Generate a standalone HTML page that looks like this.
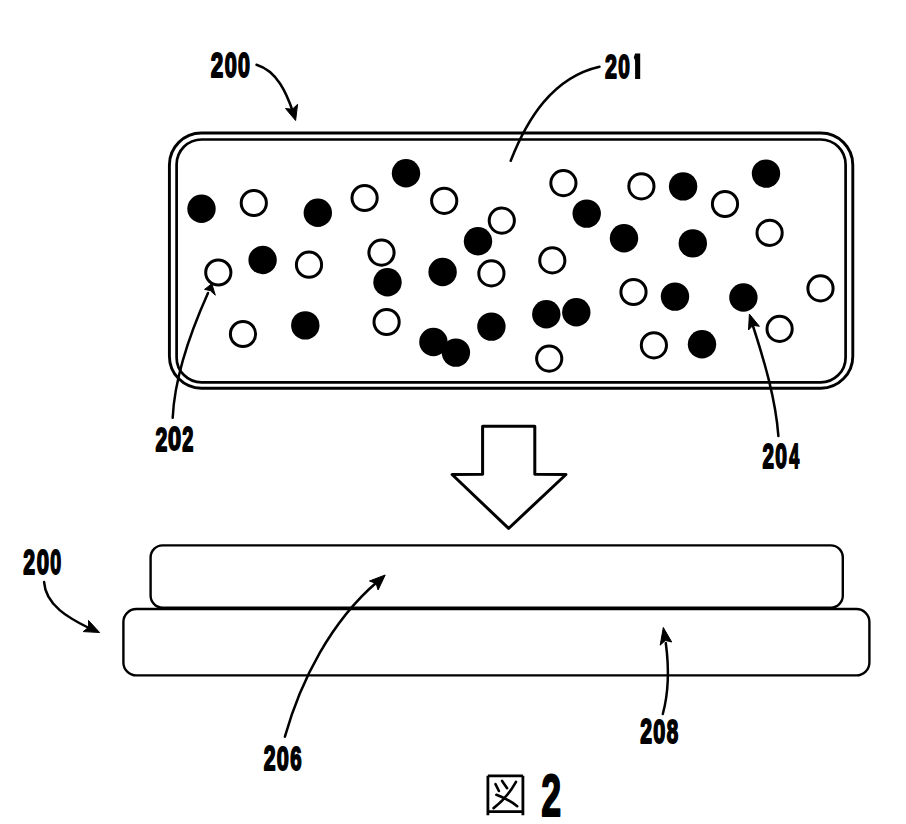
<!DOCTYPE html>
<html><head><meta charset="utf-8"><style>
html,body{margin:0;padding:0;background:#fff;}
svg{display:block;}
text{font-family:"Liberation Sans",sans-serif;font-weight:bold;fill:#000;stroke:#000;stroke-width:1.6px;stroke-linejoin:round;}
</style></head><body>
<svg width="906" height="824" viewBox="0 0 906 824">
<rect x="0" y="0" width="906" height="824" fill="#fff"/>
<rect x="169.4" y="133" width="683.4" height="255.2" rx="32" ry="32" fill="none" stroke="#000" stroke-width="2.9"/>
<rect x="176.6" y="139.5" width="669" height="242.9" rx="25" ry="25" fill="none" stroke="#000" stroke-width="2.7"/>
<circle cx="201.5" cy="208.7" r="14.2" fill="#000"/>
<circle cx="317.8" cy="212.7" r="14.2" fill="#000"/>
<circle cx="262.6" cy="260" r="14.2" fill="#000"/>
<circle cx="305.3" cy="325.4" r="14.2" fill="#000"/>
<circle cx="406" cy="173.2" r="14.2" fill="#000"/>
<circle cx="478" cy="241.2" r="14.2" fill="#000"/>
<circle cx="442.6" cy="272" r="14.2" fill="#000"/>
<circle cx="387.5" cy="282.2" r="14.2" fill="#000"/>
<circle cx="433.4" cy="342" r="14.2" fill="#000"/>
<circle cx="455.9" cy="352.6" r="14.2" fill="#000"/>
<circle cx="491.4" cy="326.6" r="14.2" fill="#000"/>
<circle cx="683.1" cy="186.4" r="14.2" fill="#000"/>
<circle cx="586.7" cy="213.6" r="14.2" fill="#000"/>
<circle cx="624" cy="238.3" r="14.2" fill="#000"/>
<circle cx="692.8" cy="243.4" r="14.2" fill="#000"/>
<circle cx="675" cy="296.6" r="14.2" fill="#000"/>
<circle cx="546.3" cy="314.2" r="14.2" fill="#000"/>
<circle cx="576.3" cy="312.3" r="14.2" fill="#000"/>
<circle cx="702" cy="344.3" r="14.2" fill="#000"/>
<circle cx="766" cy="173.6" r="14.2" fill="#000"/>
<circle cx="743.4" cy="297.5" r="14.2" fill="#000"/>
<circle cx="253.8" cy="203" r="12.6" fill="#fff" stroke="#000" stroke-width="3"/>
<circle cx="218.3" cy="272.5" r="12.6" fill="#fff" stroke="#000" stroke-width="3"/>
<circle cx="309" cy="264.7" r="12.6" fill="#fff" stroke="#000" stroke-width="3"/>
<circle cx="243" cy="334" r="12.6" fill="#fff" stroke="#000" stroke-width="3"/>
<circle cx="364.6" cy="198" r="12.6" fill="#fff" stroke="#000" stroke-width="3"/>
<circle cx="444.2" cy="200.8" r="12.6" fill="#fff" stroke="#000" stroke-width="3"/>
<circle cx="501.8" cy="220.6" r="12.6" fill="#fff" stroke="#000" stroke-width="3"/>
<circle cx="381.5" cy="252.6" r="12.6" fill="#fff" stroke="#000" stroke-width="3"/>
<circle cx="491.4" cy="273.4" r="12.6" fill="#fff" stroke="#000" stroke-width="3"/>
<circle cx="386.6" cy="322" r="12.6" fill="#fff" stroke="#000" stroke-width="3"/>
<circle cx="563.4" cy="183.1" r="12.6" fill="#fff" stroke="#000" stroke-width="3"/>
<circle cx="641.4" cy="186.3" r="12.6" fill="#fff" stroke="#000" stroke-width="3"/>
<circle cx="552.3" cy="260.4" r="12.6" fill="#fff" stroke="#000" stroke-width="3"/>
<circle cx="725" cy="204" r="12.6" fill="#fff" stroke="#000" stroke-width="3"/>
<circle cx="633.5" cy="292" r="12.6" fill="#fff" stroke="#000" stroke-width="3"/>
<circle cx="549.2" cy="358.6" r="12.6" fill="#fff" stroke="#000" stroke-width="3"/>
<circle cx="653.9" cy="345.3" r="12.6" fill="#fff" stroke="#000" stroke-width="3"/>
<circle cx="769.6" cy="232.9" r="12.6" fill="#fff" stroke="#000" stroke-width="3"/>
<circle cx="779.6" cy="328.9" r="12.6" fill="#fff" stroke="#000" stroke-width="3"/>
<circle cx="820.5" cy="288.4" r="12.6" fill="#fff" stroke="#000" stroke-width="3"/>
<g fill="none" stroke="#000" stroke-width="2.5" stroke-linecap="round">
<path d="M256.5,64.8 C277.4,71.2 286.5,93.2 293.0,112.0"/>
<path d="M599.5,66.7 C552.6,77.3 527.0,119.2 510.7,160.8"/>
<path d="M172.7,417.7 C174.6,376.5 191.3,330.2 208.0,293.0"/>
<path d="M778.4,436.1 C775.7,399.3 764.3,361.1 753.0,326.0"/>
<path d="M44.1,582.1 C45.6,605.4 69.5,618.4 88.0,627.5"/>
<path d="M284.9,736.7 C300.9,679.7 331.3,621.5 376.5,582.5"/>
<path d="M662.8,714.0 C669.4,689.7 669.1,667.7 665.8,643.0"/>
</g>
<path d="M295.6,120.5 L285.5,108.5 L292.4,109.2 L297.6,104.3 Z" fill="#000" stroke="#000" stroke-width="1" stroke-linejoin="round"/>
<path d="M211.8,283.7 L204.5,289.4 L210.3,290.6 L215.3,295.2 Z" fill="#000" stroke="#000" stroke-width="1" stroke-linejoin="round"/>
<path d="M749.4,314.1 L748.5,330 L753.0,325.3 L759.4,326.3 Z" fill="#000" stroke="#000" stroke-width="1" stroke-linejoin="round"/>
<path d="M99.6,632.5 L88.5,620.4 L88.6,627.3 L83.2,631.6 Z" fill="#000" stroke="#000" stroke-width="1" stroke-linejoin="round"/>
<path d="M385.2,575 L369.5,581 L376.1,583.4 L378.1,590 Z" fill="#000" stroke="#000" stroke-width="1" stroke-linejoin="round"/>
<path d="M663.3,627.5 L660.2,645.2 L665.4,640.4 L671.7,642 Z" fill="#000" stroke="#000" stroke-width="1" stroke-linejoin="round"/>
<path d="M482.6,426.3 L534.8,426.3 L534.8,474.3 L566,474.5 L508.6,528.4 L452.1,474.5 L482.6,474.3 Z" fill="none" stroke="#000" stroke-width="3" stroke-linejoin="round"/>
<rect x="150.6" y="545.4" width="692.2" height="62.2" rx="12" ry="12" fill="none" stroke="#000" stroke-width="2.4"/>
<rect x="123.4" y="609" width="746" height="66.4" rx="13" ry="13" fill="none" stroke="#000" stroke-width="2.4"/>
<text transform="matrix(0.2250,0,0,0.3500,210.81,77.00)" x="0" y="0" font-size="100" vector-effect="non-scaling-stroke">2</text>
<text transform="matrix(0.2168,0,0,0.3451,224.63,76.65)" x="0" y="0" font-size="100" vector-effect="non-scaling-stroke">0</text>
<text transform="matrix(0.2147,0,0,0.3451,238.04,76.65)" x="0" y="0" font-size="100" vector-effect="non-scaling-stroke">0</text>
<text transform="matrix(0.2146,0,0,0.3414,605.05,78.20)" x="0" y="0" font-size="100" vector-effect="non-scaling-stroke">2</text>
<text transform="matrix(0.2084,0,0,0.3366,618.37,77.86)" x="0" y="0" font-size="100" vector-effect="non-scaling-stroke">0</text>
<path d="M635.1,53.5 L640.2,53.5 L640.2,79.0 L635.1,79.0 Z M633.8,57.6 L635.1,53.5 L635.1,60.6 Z" fill="#000"/>
<text transform="matrix(0.2125,0,0,0.3414,155.56,450.80)" x="0" y="0" font-size="100" vector-effect="non-scaling-stroke">2</text>
<text transform="matrix(0.2358,0,0,0.3366,168.06,450.46)" x="0" y="0" font-size="100" vector-effect="non-scaling-stroke">0</text>
<text transform="matrix(0.2000,0,0,0.3414,182.30,450.80)" x="0" y="0" font-size="100" vector-effect="non-scaling-stroke">2</text>
<text transform="matrix(0.2063,0,0,0.3543,762.38,468.40)" x="0" y="0" font-size="100" vector-effect="non-scaling-stroke">2</text>
<text transform="matrix(0.2105,0,0,0.3493,775.26,468.05)" x="0" y="0" font-size="100" vector-effect="non-scaling-stroke">0</text>
<text transform="matrix(0.1794,0,0,0.3594,789.23,468.40)" x="0" y="0" font-size="100" vector-effect="non-scaling-stroke">4</text>
<text transform="matrix(0.2125,0,0,0.3471,23.26,574.00)" x="0" y="0" font-size="100" vector-effect="non-scaling-stroke">2</text>
<text transform="matrix(0.2211,0,0,0.3423,36.82,573.66)" x="0" y="0" font-size="100" vector-effect="non-scaling-stroke">0</text>
<text transform="matrix(0.1958,0,0,0.3423,50.22,573.66)" x="0" y="0" font-size="100" vector-effect="non-scaling-stroke">0</text>
<text transform="matrix(0.2125,0,0,0.3457,263.86,770.20)" x="0" y="0" font-size="100" vector-effect="non-scaling-stroke">2</text>
<text transform="matrix(0.2168,0,0,0.3408,276.73,769.86)" x="0" y="0" font-size="100" vector-effect="non-scaling-stroke">0</text>
<text transform="matrix(0.2041,0,0,0.3408,290.29,769.86)" x="0" y="0" font-size="100" vector-effect="non-scaling-stroke">6</text>
<text transform="matrix(0.2125,0,0,0.3457,640.26,743.10)" x="0" y="0" font-size="100" vector-effect="non-scaling-stroke">2</text>
<text transform="matrix(0.2168,0,0,0.3408,653.13,742.76)" x="0" y="0" font-size="100" vector-effect="non-scaling-stroke">0</text>
<text transform="matrix(0.2061,0,0,0.3408,666.78,742.76)" x="0" y="0" font-size="100" vector-effect="non-scaling-stroke">8</text>
<text transform="matrix(0.3583,0,0,0.5871,541.15,816.40)" x="0" y="0" font-size="100" vector-effect="non-scaling-stroke">2</text>
<g stroke="#000" fill="none" stroke-width="2.8">
<path d="M487.9,775.8 L522.9,775.8 M487.9,775.8 L487.9,815.3 M522.9,775.8 L522.9,815.3 M487.9,811.6 L522.9,811.6"/>
<path d="M495.5,784.1 L498.9,791 M502.1,780.9 L507.1,788.2 M516,781.9 Q507,798 493.6,808.1 M496.4,794.8 Q508,799 517.2,806.2" stroke-width="2.6" stroke-linecap="round"/>
</g>
</svg>
</body></html>
